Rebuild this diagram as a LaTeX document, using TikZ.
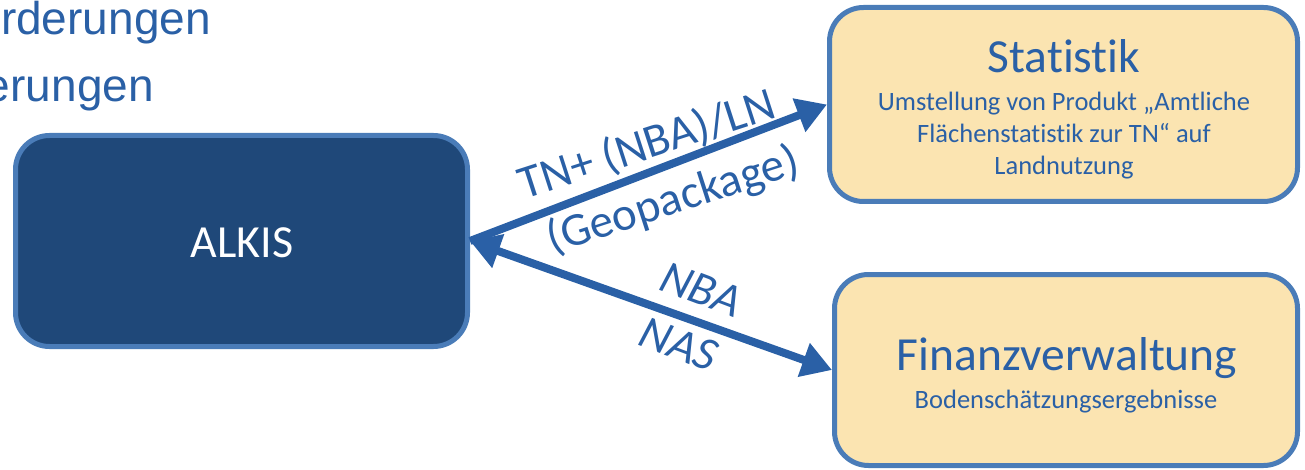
\documentclass[tikz,border=0pt]{standalone}
\usepackage{fontspec}
\setmainfont{Carlito}[Ligatures=NoCommon]
\newfontfamily\arialfont{Liberation Sans}
\usetikzlibrary{arrows.meta, positioning}
\definecolor{linkblue}{RGB}{42,96,166}
\definecolor{rimblue}{RGB}{74,124,184}
\definecolor{alkisfill}{RGB}{31,72,121}
\definecolor{tanfill}{RGB}{251,228,177}
\tikzset{
x=1pt, y=-1pt, % one unit is one pixel of the slide
box/.style={draw=rimblue, line width=5pt, rounded corners=34pt}, % sets the properties for each box
darkbox/.style={box, fill=alkisfill}, % the source system
lightbox/.style={box, fill=tanfill}, % the receiving offices
slidetext/.style={text=linkblue, font=\arialfont\fontsize{46}{54}\selectfont, inner sep=0pt, anchor=base east},
title/.style={text=linkblue, font=\fontsize{47.5}{56}\selectfont, inner sep=0pt, anchor=base},
subtitle/.style={text=linkblue, font=\fontsize{26.5}{32}\selectfont, inner sep=0pt, align=center, anchor=base},
flow/.style={draw=linkblue, line width=8pt, -{Triangle[length=30pt,width=34pt]}}, % one-way transfer
swap/.style={flow, {Triangle[length=30pt,width=34pt]}-{Triangle[length=30pt,width=34pt]}}, % two-way transfer
lbl/.style={text=linkblue, font=\fontsize{47}{56}\selectfont, inner sep=0pt, sloped},
}
\begin{document}
\begin{tikzpicture}
        \useasboundingbox (0,0) rectangle (1305,470);

        % cut-off lines of the slide text
        \node[slidetext] (line1) at (211,35) {rderungen};
        \node[slidetext] (line2) at (154,102) {erungen};

        \node[darkbox, minimum width=452pt, minimum height=211pt] (alkis) at (241.5,241) {};
        \node[text=white, font=\fontsize{46}{54}\selectfont, inner sep=0pt, anchor=base] (alkis-t) at (242,258) {ALKIS};

        \node[lightbox, minimum width=468pt, minimum height=194pt] (stat) at (1063.5,104.5) {};
        \node[title] (stat-t) at (1064,73) {Statistik};
        \node[subtitle] (stat-s) at (1064,175) {Umstellung von Produkt „Amtliche\\Flächenstatistik zur TN“ auf\\Landnutzung};

        \node[lightbox, minimum width=463pt, minimum height=191pt] (fin) at (1066,370) {};
        \node[title] (fin-t) at (1067,370) {Finanzverwaltung};
        \node[subtitle] (fin-s) at (1066,408) {Bodenschätzungsergebnisse};

        \draw[flow] (alkis.east) -- (stat.west)
            node[lbl, rotate=-3, above=2pt, pos=0.519] {TN+ (NBA)/LN}
            node[lbl, rotate=-3, below=10pt, pos=0.537] {(Geopackage)};
        \draw[swap] (alkis.east) -- (fin.west)
            node[lbl, rotate=-1, above=13pt, pos=0.609] {\itshape NBA}
            node[lbl, rotate=-1, below=8pt, pos=0.603] {\itshape NAS};
\end{tikzpicture}
\end{document}
